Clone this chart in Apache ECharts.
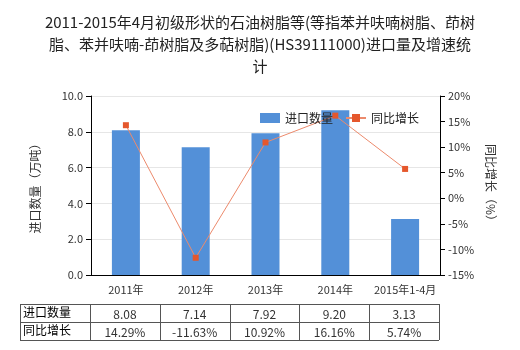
<!DOCTYPE html>
<html><head><meta charset="utf-8">
<script src="https://cdn.jsdelivr.net/npm/echarts@6/dist/echarts.min.js"></script>
<style>html,body{margin:0;padding:0;background:#fff}#c{width:520px;height:350px}</style>
</head><body><div id="c"></div>
<script>
const categories = ['2011年','2012年','2013年','2014年','2015年1-4月'];
const importQty = [8.08, 7.14, 7.92, 9.20, 3.13];
const growth = [14.29, -11.63, 10.92, 16.16, 5.74];
const qtyLabels = ['8.08','7.14','7.92','9.20','3.13'];
const growthLabels = ['14.29%','-11.63%','10.92%','16.16%','5.74%'];
const seriesNames = ['进口数量','同比增长'];

const FONT = '"Noto Sans CJK SC", "Noto Sans", sans-serif';
const gl = 91, gr = 440, gt = 96, gb = 275;
const colW = (gr - gl) / categories.length;
const tTop = 304, rowH = 18, tLeft = 20;

const graphics = [];
const lineStyle = {stroke:'#555', lineWidth:1};
for (let r = 0; r <= 2; r++) {
  graphics.push({type:'line', shape:{x1:tLeft, y1:tTop + r*rowH + 0.5, x2:gr - 1, y2:tTop + r*rowH + 0.5}, style:lineStyle, silent:true});
}
const xs = [tLeft];
for (let i = 0; i <= categories.length; i++) xs.push(gl - 1 + i*colW);
xs.forEach(x => graphics.push({type:'line', shape:{x1:Math.round(x)+0.5, y1:tTop, x2:Math.round(x)+0.5, y2:tTop+2*rowH}, style:lineStyle, silent:true}));
const rows = [qtyLabels, growthLabels];
rows.forEach((row, r) => {
  graphics.push({type:'text', left:tLeft+3, top:tTop + r*rowH + 2, style:{text:seriesNames[r], font:'12px '+FONT, fill:'#000'}, silent:true});
  row.forEach((t, i) => {
    graphics.push({type:'text', x: gl - 1 + (i+0.5)*colW, y: tTop + r*rowH + rowH/2 + 1, style:{text:t, font:'12px '+FONT, fill:'#333', textAlign:'center', textVerticalAlign:'middle'}, silent:true});
  });
});

const chart = echarts.init(document.getElementById('c'));
chart.setOption({
  animation:false,
  title:{text:'2011-2015年4月初级形状的石油树脂等(等指苯并呋喃树脂、茚树\n脂、苯并呋喃-茚树脂及多萜树脂)(HS39111000)进口量及增速统\n计', left:'center', top:6, textStyle:{fontSize:15, fontWeight:'normal', color:'#222', fontFamily:FONT, lineHeight:22}},
  legend:{data:[{name:'进口数量', icon:'rect'}, {name:'同比增长'}], left:255, top:107, itemWidth:20, itemHeight:10, itemGap:12, textStyle:{fontSize:12, color:'#222', fontFamily:FONT}},
  grid:{left:gl, right:520-gr, top:gt, bottom:350-gb},
  xAxis:{type:'category', data:categories, axisLine:{lineStyle:{color:'#000'}}, axisTick:{alignWithLabel:true, lineStyle:{color:'#000'}}, axisLabel:{interval:0, color:'#333', fontSize:11, fontFamily:FONT, margin:9}},
  yAxis:[
    {type:'value', min:0, max:10, interval:2, name:'进口数量（万吨）', nameLocation:'middle', nameGap:50, nameRotate:90, nameTextStyle:{fontSize:12, color:'#333', fontFamily:FONT},
     axisLine:{show:true, lineStyle:{color:'#000'}}, axisTick:{show:true, lineStyle:{color:'#000'}}, axisLabel:{formatter:v=>v.toFixed(1), color:'#333', fontSize:11, fontFamily:FONT}, splitLine:{lineStyle:{color:'#e6e6e6'}}},
    {type:'value', min:-15, max:20, interval:5, name:'同比增长（%）', nameLocation:'middle', nameGap:42, nameRotate:-90, nameTextStyle:{fontSize:12, color:'#333', fontFamily:FONT},
     axisLine:{show:true, lineStyle:{color:'#000'}}, axisTick:{show:true, lineStyle:{color:'#000'}}, axisLabel:{formatter:'{value}%', color:'#333', fontSize:11, fontFamily:FONT}, splitLine:{show:false}}
  ],
  series:[
    {name:'进口数量', type:'bar', data:importQty, barWidth:28, itemStyle:{color:'#5390d8'}},
    {name:'同比增长', type:'line', yAxisIndex:1, data:growth, symbol:'rect', symbolSize:6, itemStyle:{color:'#e5572c'}, lineStyle:{color:'#ec8a6c', width:1}}
  ],
  graphic:graphics
});
</script></body></html>
